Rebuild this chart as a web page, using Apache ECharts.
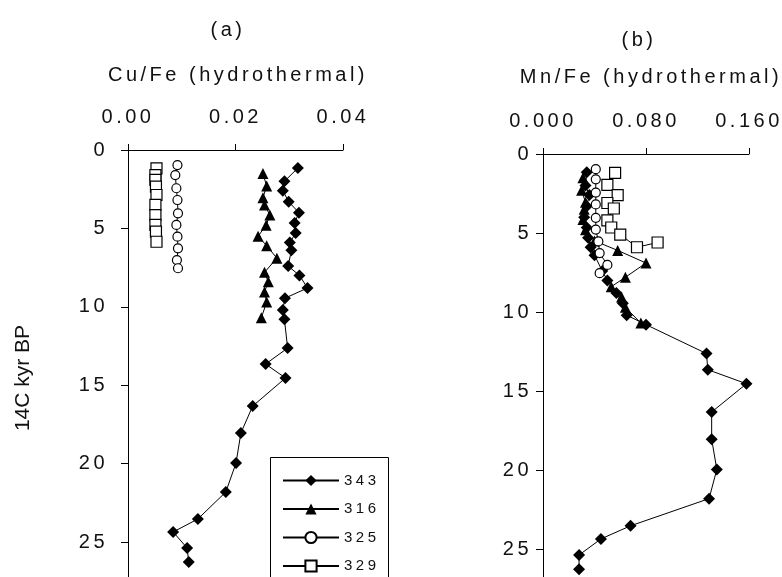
<!DOCTYPE html>
<html><head><meta charset="utf-8">
<script src="https://cdn.jsdelivr.net/npm/echarts@6/dist/echarts.min.js"></script>
<style>html,body{margin:0;padding:0;background:#fff}#c{width:782px;height:577px}</style>
</head><body><div id="c"></div>
<script>
// ---------- data ----------
const seriesNames = ['343', '316', '325', '329'];
const cuTicks = [0, 0.02, 0.04];
const mnTicks = [0, 0.08, 0.16];
const depthTicks = [0, 5, 10, 15, 20, 25];
const yTitle = '14C kyr BP';

const depth343 = [1.15, 2.0, 2.6, 3.3, 4.0, 4.65, 5.3, 5.9, 6.4, 7.4, 8.0, 8.8, 9.45, 10.2, 10.8, 12.63, 13.65, 14.54, 16.33, 18.05, 19.96, 21.81, 23.53, 24.36, 25.38, 26.28];
const cuFe343 = [0.0316, 0.0291, 0.0288, 0.0299, 0.0318, 0.0310, 0.0312, 0.0301, 0.0304, 0.0298, 0.0319, 0.0334, 0.0292, 0.0288, 0.0291, 0.0297, 0.0256, 0.0293, 0.0232, 0.0210, 0.0201, 0.0182, 0.0130, 0.0084, 0.0110, 0.0113];
const mnFe343 = [0.034, 0.033, 0.036, 0.034, 0.032, 0.034, 0.035, 0.037, 0.040, 0.046, 0.050, 0.057, 0.062, 0.065, 0.080, 0.127, 0.128, 0.158, 0.131, 0.131, 0.135, 0.129, 0.068, 0.045, 0.028, 0.028];

const depth316 = [1.5, 2.3, 3.05, 3.5, 4.15, 4.8, 5.5, 6.1, 6.9, 7.8, 8.4, 9.05, 9.7, 10.7];
const cuFe316 = [0.0251, 0.0258, 0.0251, 0.0254, 0.0264, 0.0257, 0.0242, 0.0258, 0.0277, 0.0254, 0.0261, 0.0254, 0.0258, 0.0248];
const mnFe316 = [0.031, 0.030, 0.033, 0.032, 0.031, 0.033, 0.040, 0.058, 0.080, 0.064, 0.053, 0.061, 0.064, 0.076];

const depth325 = [0.96, 1.6, 2.44, 3.19, 4.04, 4.78, 5.53, 6.27, 7.02, 7.54];
const cuFe325 = [0.0092, 0.0088, 0.0090, 0.0092, 0.0093, 0.0090, 0.0092, 0.0093, 0.0091, 0.0093];
const mnFe325 = [0.041, 0.041, 0.041, 0.041, 0.041, 0.041, 0.043, 0.044, 0.050, 0.044];

const depth329a = [1.17, 1.6, 1.9, 2.34, 2.87, 3.5, 4.15, 4.78, 5.2, 5.85];
const cuFe329 = [0.0053, 0.0051, 0.0051, 0.0052, 0.0053, 0.0051, 0.0051, 0.0051, 0.0052, 0.0053];
const depth329b = [1.2, 1.95, 2.6, 3.1, 3.45, 4.2, 4.65, 5.1, 5.9, 5.6];
const mnFe329 = [0.056, 0.050, 0.058, 0.050, 0.055, 0.050, 0.053, 0.060, 0.073, 0.089];

// ---------- spaced lettering (reference text is horizontally stretched) ----------
(function () {
  const proto = CanvasRenderingContext2D.prototype;
  const orig = proto.fillText;
  proto.fillText = function (text, x, y, maxW) {
    const has = 'letterSpacing' in this;
    const prev = has ? this.letterSpacing : null;
    if (has) this.letterSpacing = (text === yTitle) ? '0px' : '3.5px';
    const r = maxW === undefined ? orig.call(this, text, x, y) : orig.call(this, text, x, y, maxW);
    if (has) this.letterSpacing = prev;
    return r;
  };
})();

const FONT = '"Liberation Sans", Arial, sans-serif';
const TXT = '#111';

function pairs(xs, ys) { return xs.map((v, i) => [v, ys[i]]); }
function mk(name, data, gi, symbol, size, filled, z) {
  return {
    name, type: 'line', xAxisIndex: gi, yAxisIndex: gi, data,
    symbol, symbolSize: size, showSymbol: true, showAllSymbol: true,
    lineStyle: { color: '#000', width: 1 },
    itemStyle: filled ? { color: '#000', borderWidth: 0 } : { color: '#fff', borderColor: '#000', borderWidth: 1.2 },
    emphasis: { disabled: true }, z, animation: false
  };
}

function xAx(gi, max, interval, dec, margin) {
  return {
    gridIndex: gi, type: 'value', position: 'top', min: 0, max, interval,
    axisLine: { show: true, onZero: false, lineStyle: { color: '#000', width: 1 } },
    axisTick: { show: true, length: 6, lineStyle: { color: '#000' } },
    axisLabel: { formatter: v => v.toFixed(dec), margin, color: TXT, fontSize: 20, fontFamily: FONT },
    splitLine: { show: false }
  };
}
function yAx(gi, max, margin) {
  return {
    gridIndex: gi, type: 'value', inverse: true, min: 0, max, interval: 5,
    axisLine: { show: true, onZero: false, lineStyle: { color: '#000', width: 1 } },
    axisTick: { show: true, length: 7, customValues: depthTicks, lineStyle: { color: '#000' } },
    axisLabel: { customValues: depthTicks, margin, color: TXT, fontSize: 20, fontFamily: FONT },
    splitLine: { show: false }
  };
}

const chart = echarts.init(document.getElementById('c'), null, { renderer: 'canvas' });
chart.setOption({
  animation: false,
  backgroundColor: '#fff',
  grid: [
    { left: 128, top: 150, width: 215, height: 427 },
    { left: 543, top: 154, width: 206, height: 423 }
  ],
  xAxis: [xAx(0, cuTicks[2], cuTicks[1], 2, 23), xAx(1, mnTicks[2], mnTicks[1], 3, 23)],
  yAxis: [yAx(0, 27.23, 20), yAx(1, 26.77, 11)],
  legend: {
    data: seriesNames, orient: 'vertical', left: 270, top: 457,
    padding: [16, 22, 0, 12], itemWidth: 56, itemHeight: 14, itemGap: 13.5,
    textStyle: { color: TXT, fontSize: 15, fontFamily: FONT },
    selectedMode: false, z: 10
  },
  graphic: [
    { type: 'rect', z: 9, zlevel: 0, shape: { x: 270.5, y: 457.5, width: 118, height: 140 }, style: { fill: '#fff', stroke: '#000', lineWidth: 1 } },
    { type: 'text', x: 228, y: 30, style: { text: '(a)', font: '20px ' + FONT, fill: TXT, textAlign: 'center', textVerticalAlign: 'middle' } },
    { type: 'text', x: 238, y: 75, style: { text: 'Cu/Fe (hydrothermal)', font: '20px ' + FONT, fill: TXT, textAlign: 'center', textVerticalAlign: 'middle' } },
    { type: 'text', x: 639, y: 40, style: { text: '(b)', font: '20px ' + FONT, fill: TXT, textAlign: 'center', textVerticalAlign: 'middle' } },
    { type: 'text', x: 651, y: 77, style: { text: 'Mn/Fe (hydrothermal)', font: '20px ' + FONT, fill: TXT, textAlign: 'center', textVerticalAlign: 'middle' } },
    { type: 'text', x: 23, y: 378, rotation: Math.PI / 2, style: { text: yTitle, font: '21px ' + FONT, fill: TXT, textAlign: 'center', textVerticalAlign: 'middle' } }
  ],
  series: [
    mk('343', pairs(cuFe343, depth343), 0, 'diamond', 12, true, 2),
    mk('316', pairs(cuFe316, depth316), 0, 'triangle', 11, true, 3),
    mk('325', pairs(cuFe325, depth325), 0, 'circle', 9, false, 4),
    mk('329', pairs(cuFe329, depth329a), 0, 'rect', 11, false, 5),
    mk('343', pairs(mnFe343, depth343), 1, 'diamond', 12, true, 2),
    mk('316', pairs(mnFe316, depth316), 1, 'triangle', 11, true, 3),
    mk('325', pairs(mnFe325, depth325), 1, 'circle', 9, false, 4),
    mk('329', pairs(mnFe329, depth329b), 1, 'rect', 11, false, 5)
  ]
});
</script>
</body></html>
